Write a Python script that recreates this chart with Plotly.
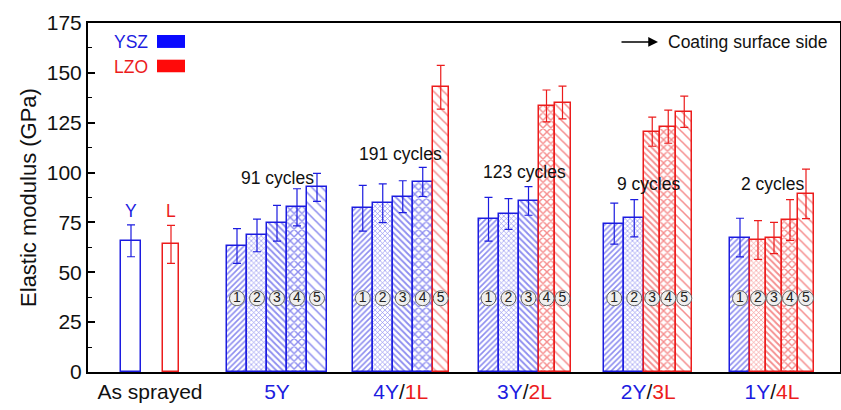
import plotly.graph_objects as go

# ---------------- data ----------------
groups = ["5Y", "4Y/1L", "3Y/2L", "2Y/3L", "1Y/4L"]
n_ysz = [5, 4, 3, 2, 1]           # number of YSZ layers in each group
cycles = ["91 cycles", "191 cycles", "123 cycles", "9 cycles", "2 cycles"]
cycle_label_y = [97.3, 109.3, 100.5, 94.3, 94.3]
layer_labels = ["1", "2", "3", "4", "5"]

vals = [
    [63.2, 68.5, 74.6, 82.6, 92.6],
    [82.1, 84.6, 87.9, 95.3, 142.8],
    [76.6, 79.2, 85.8, 133.4, 135.1],
    [74.4, 77.1, 120.5, 123.0, 130.5],
    [67.4, 66.2, 67.2, 76.2, 89.3],
]
errs = [
    [8.7, 8.2, 9.0, 9.3, 7.0],
    [11.5, 9.7, 8.0, 7.3, 11.0],
    [11.0, 7.7, 7.2, 8.0, 8.2],
    [10.3, 9.3, 7.3, 8.3, 7.8],
    [9.7, 9.7, 7.8, 10.2, 12.4],
]
sprayed_labels = ["Y", "L"]
sprayed_vals = [65.8, 64.0]
sprayed_errs = [8.0, 9.5]

# ---------------- styles / layout constants ----------------
BLUE = "#1c1ce0"
RED = "#ec1c1c"
W_Y, W_L = 20, 16
x0_groups = 139          # first group start (in axis units)
g_step = 125.75
pat_shape = ["/", "x", "\\", "x", "\\"]
pat_size = [4, 3.5, 4.5, 5.5, 7]
pat_solid = [0.4, 0.35, 0.4, 0.45, 0.22]
label_y = 37

bx, by, be, bw, bshape, bsize, bsolid = [], [], [], [], [], [], []
rx, ry, re_, rw, rshape, rsize, rsolid = [], [], [], [], [], [], []
cx, ctext = [], []
tickvals, ticktext = [], []

# as sprayed
sp_x = [33 + W_Y / 2, 75 + W_L / 2]
bx.append(sp_x[0]); by.append(sprayed_vals[0]); be.append(sprayed_errs[0]); bw.append(W_Y)
bshape.append(""); bsize.append(8); bsolid.append(0.3)
rx.append(sp_x[1]); ry.append(sprayed_vals[1]); re_.append(sprayed_errs[1]); rw.append(W_L)
rshape.append(""); rsize.append(8); rsolid.append(0.3)
tickvals.append(62)
ticktext.append("As sprayed")

group_centers = []
for g, name in enumerate(groups):
    pos = x0_groups + g * g_step
    start = pos
    for i in range(5):
        blue = i < n_ysz[g]
        w = W_Y if blue else W_L
        c = pos + w / 2
        if blue:
            bx.append(c); by.append(vals[g][i]); be.append(errs[g][i]); bw.append(w)
            bshape.append(pat_shape[i]); bsize.append(pat_size[i]); bsolid.append(pat_solid[i])
        else:
            rx.append(c); ry.append(vals[g][i]); re_.append(errs[g][i]); rw.append(w)
            rshape.append(pat_shape[i]); rsize.append(pat_size[i]); rsolid.append(pat_solid[i])
        cx.append(c); ctext.append(layer_labels[i])
        pos += w
    center = (start + pos) / 2
    group_centers.append(center)
    tickvals.append(center)
    yp, lp = name.split("/") if "/" in name else (name, None)
    if lp:
        ticktext.append(f'<span style="color:{BLUE}">{yp}</span>/<span style="color:{RED}">{lp}</span>')
    else:
        ticktext.append(f'<span style="color:{BLUE}">{yp}</span>')

fig = go.Figure()
fig.add_trace(go.Bar(
    x=bx, y=by, width=bw,
    marker=dict(color="white", line=dict(color=BLUE, width=1.5),
                pattern=dict(shape=bshape, size=bsize, solidity=bsolid, fgcolor=BLUE, bgcolor="white")),
    error_y=dict(type="data", array=be, color=BLUE, thickness=1.2, width=4),
    showlegend=False,
))
fig.add_trace(go.Bar(
    x=rx, y=ry, width=rw,
    marker=dict(color="white", line=dict(color=RED, width=1.5),
                pattern=dict(shape=rshape, size=rsize, solidity=rsolid, fgcolor=RED, bgcolor="white")),
    error_y=dict(type="data", array=re_, color=RED, thickness=1.2, width=4),
    showlegend=False,
))
fig.add_trace(go.Scatter(
    x=cx, y=[label_y] * len(cx), mode="markers+text", text=ctext,
    textposition="middle center",
    textfont=dict(size=14, color="#222", family="Arial"),
    marker=dict(size=15, color="#efefef", line=dict(color="#666", width=1)),
    showlegend=False, hoverinfo="skip",
))

TXT = 17.5
ann = []
for g, t in enumerate(cycles):
    ann.append(dict(x=group_centers[g], y=cycle_label_y[g], text=t,
                    showarrow=False, font=dict(size=TXT, color="#111", family="Arial")))
ann.append(dict(x=sp_x[0], y=80.5, text=sprayed_labels[0], showarrow=False,
                font=dict(size=TXT, color=BLUE, family="Arial")))
ann.append(dict(x=sp_x[1], y=80.5, text=sprayed_labels[1], showarrow=False,
                font=dict(size=TXT, color=RED, family="Arial")))
ann.append(dict(x=24, y=165.5, text="YSZ", showarrow=False, xanchor="left",
                font=dict(size=TXT, color=BLUE, family="Arial")))
ann.append(dict(x=24, y=153, text="LZO", showarrow=False, xanchor="left",
                font=dict(size=TXT, color=RED, family="Arial")))
ann.append(dict(x=570, y=165.5, ax=532, ay=165.5, axref="x", ayref="y", text="",
                showarrow=True, arrowhead=2, arrowsize=1.3, arrowwidth=1.5, arrowcolor="black"))
ann.append(dict(x=578, y=165.5, text="Coating surface side", showarrow=False, xanchor="left",
                font=dict(size=TXT, color="#111", family="Arial")))

shapes = [
    dict(type="rect", x0=69, x1=97, y0=162.5, y1=169, fillcolor="#0a0aff", line=dict(width=0)),
    dict(type="rect", x0=69, x1=97, y0=150.3, y1=156.6, fillcolor="#ff0a0a", line=dict(width=0)),
]

fig.update_layout(
    width=841, height=410,
    margin=dict(l=88, r=1, t=23, b=38, autoexpand=False),
    plot_bgcolor="white", paper_bgcolor="white",
    barmode="overlay", bargap=0,
    annotations=ann, shapes=shapes,
    font=dict(family="Arial", color="#111"),
)
fig.update_xaxes(
    range=[0, 752], tickvals=tickvals, ticktext=ticktext, ticks="", automargin=False,
    showline=True, linecolor="black", linewidth=2, mirror=True, showgrid=False, zeroline=False,
    tickfont=dict(size=21, family="Arial", color="#111"),
)
fig.update_yaxes(
    range=[0, 175], dtick=25, ticks="inside", ticklen=7, tickwidth=1.5, tickcolor="black",
    minor=dict(ticks="inside", ticklen=4, tickwidth=1.2, tickcolor="black", dtick=12.5),
    showline=True, linecolor="black", linewidth=2, mirror=True, showgrid=False, zeroline=False,
    automargin=False,
    tickfont=dict(size=21, family="Arial", color="#111"),
    title=dict(text="Elastic modulus (GPa)", font=dict(size=22, family="Arial", color="#111"), standoff=4),
)

fig.write_html("out.html", config={"displayModeBar": False},
               post_script="document.body.style.margin='0';document.body.style.overflow='hidden';")
